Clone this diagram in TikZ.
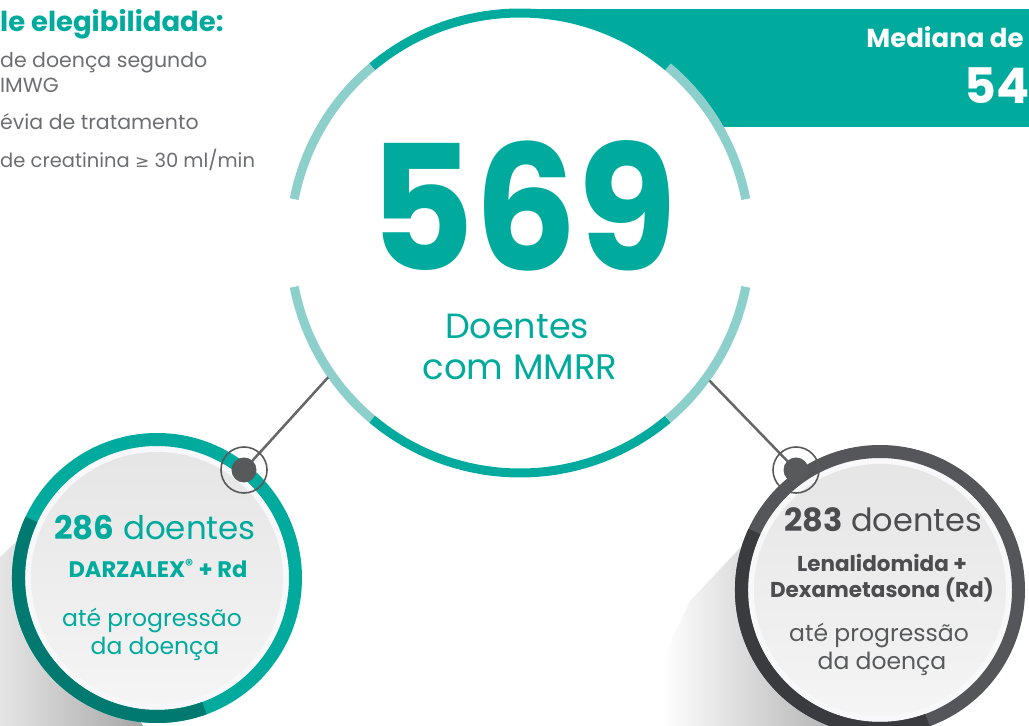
\documentclass[tikz,border=0pt]{standalone}
\usepackage{fontspec}
\usepackage{graphicx}
\setmainfont{Poppins}
\newfontfamily\symfont{DejaVu Sans}
\usetikzlibrary{positioning}

\definecolor{tealmain}{RGB}{0,171,158}
\definecolor{teallight}{RGB}{141,207,203}
\definecolor{tealdark}{RGB}{0,122,112}
\definecolor{greyring}{RGB}{85,86,89}
\definecolor{greyringdark}{RGB}{58,59,62}
\definecolor{greypin}{RGB}{88,89,91}
\definecolor{greyline}{RGB}{102,102,102}
\definecolor{greytext}{RGB}{109,110,113}
\definecolor{greydark}{RGB}{77,77,79}
\definecolor{discwhite}{RGB}{248,248,250}

\newcommand\fsz[1]{\fontsize{#1}{#1}\selectfont}

\begin{document}
\begin{tikzpicture}[x=1pt,y=1pt,
  arcseg/.style={line width=9pt},
  conn/.style={draw=greyline, line width=2.5pt},
  pinring/.style={circle, draw=greypin, line width=1.6pt, minimum size=46pt, inner sep=0pt},
  pindot/.style={circle, fill=greypin, minimum size=25pt, inner sep=0pt},
  groupring/.style={circle, line width=13pt, fill=discwhite, minimum size=277pt, inner sep=0pt},
  groupdisc/.style={circle, top color=black!10, bottom color=blue!3!black!4, minimum size=252pt, inner sep=0pt},
  txt/.style={anchor=base, inner sep=0pt}]
\useasboundingbox (0,0) rectangle (1029,726);
\clip (0,0) rectangle (1029,726);

% soft shadows under the group circles
\shade[left color=white, right color=gray!75]
  (17,185) -- (-38,133) -- (-58,78) -- (-58,-20) -- (157,-20) -- cycle;
\shade[left color=white, right color=gray!75]
  (740,178) -- (690,125) -- (662,66) -- (662,-20) -- (880,-20) -- cycle;

% header banner
\fill[tealmain] (520,599) rectangle (1040,717);
\node[txt, text=white] (median) at (945,678) {\fsz{26}\bfseries Mediana de};
\node[txt, text=white] (months) at (997,622) {\fsz{49}\bfseries 54};

% eligibility list
\node[txt, anchor=base west, text=tealmain] (elig) at (0,694) {\fsz{27.5}\bfseries le elegibilidade:};
\node[txt, anchor=base west, text=greytext] (crit1) at (0,658) {\fsz{20.5}de doença segundo};
\node[txt, anchor=base west, text=greytext] (crit1b) at (0,633) {\fsz{20.5}IMWG};
\node[txt, anchor=base west, text=greytext] (crit2) at (0,596) {\fsz{20.5}évia de tratamento};
\node[txt, anchor=base west, text=greytext] (crit3) at (0,558) {\fsz{19.5}de creatinina {\symfont\fsz{17}≥} 30 ml/min};

% main circle
\node[circle, fill=white, minimum size=468pt, inner sep=0pt] (big) at (520,483) {};
\foreach \a/\b/\c in {11/50/teallight, 50/130/tealmain, 130/169/teallight,
                      191/230/teallight, 230/310/tealmain, 310/349/teallight}
  \draw[arcseg, \c] ([shift={(\a:230)}]big.center) arc[start angle=\a, end angle=\b, radius=230];
\node[txt, text=tealmain, text depth=0pt] (total) at (523,455) {\fsz{174}\bfseries\scalebox{0.93}[1]{569}};
\node[txt, text=tealmain] (totlab1) at (517,387) {\fsz{35}Doentes};
\node[txt, text=tealmain] (totlab2) at (520,346) {\fsz{35.5}com MMRR};

% connectors
\coordinate (lpin) at (244,256);
\coordinate (rpin) at (796,256);
\draw[conn] (big.215) -- (lpin);
\draw[conn] (big.324) -- (rpin);

% DARZALEX arm
\node[groupring, draw=tealmain] (larm) at (157,148) {};
\draw[line width=13pt, tealdark] ([shift={(155:138.5)}]larm.center) arc[start angle=155, end angle=290, radius=138.5];
\node[groupdisc] (ldisc) at (larm.center) {};
\node[txt, text=tealmain] (lcount) at (155,186) {\fsz{32.5}\textbf{286} doentes};
\node[txt, text=tealmain] (ldrug) at (158,148) {\fsz{22.5}\bfseries DARZALEX\textsuperscript{®} + Rd};
\node[txt, text=tealmain] (luntil1) at (152,99) {\fsz{23.5}até progressão};
\node[txt, text=tealmain] (luntil2) at (155,71) {\fsz{23.5}da doença};

% Rd arm
\node[groupring, draw=greyring] (rarm) at (880,136) {};
\draw[line width=13pt, greyringdark] ([shift={(155:138.5)}]rarm.center) arc[start angle=155, end angle=290, radius=138.5];
\node[groupdisc] (rdisc) at (rarm.center) {};
\node[txt, text=greydark] (rcount) at (883,194) {\fsz{32}\textbf{283} doentes};
\node[txt, text=greydark] (rdrug1) at (882,154) {\fsz{21.5}\bfseries Lenalidomida +};
\node[txt, text=greydark] (rdrug2) at (882,128) {\fsz{21.5}\bfseries Dexametasona (Rd)};
\node[txt, text=greypin] (runtil1) at (879,84) {\fsz{23.5}até progressão};
\node[txt, text=greypin] (runtil2) at (882,56) {\fsz{23.5}da doença};

% pins
\node[pinring] (lring) at (lpin) {};
\node[pindot] (ldot) at (lpin) {};
\node[pinring] (rring) at (rpin) {};
\node[pindot] (rdot) at (rpin) {};
\end{tikzpicture}
\end{document}
